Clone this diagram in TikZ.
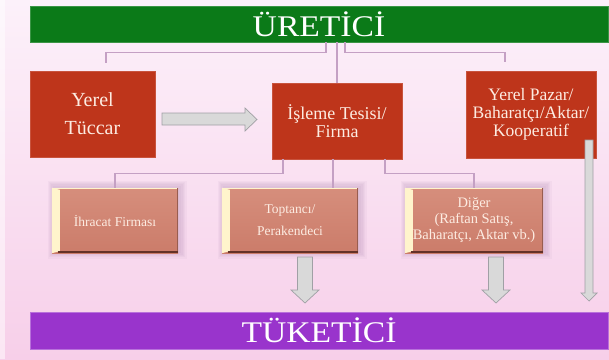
\documentclass[tikz,border=0pt]{standalone}
\usepackage{fontspec}
\setmainfont{Liberation Serif}
\usetikzlibrary{calc}
\definecolor{bgtop}{RGB}{252,241,250}
\definecolor{bgbot}{RGB}{247,207,233}
\definecolor{greenb}{RGB}{11,122,24}
\definecolor{purpleb}{RGB}{153,52,204}
\definecolor{redb}{RGB}{190,53,27}
\definecolor{salmon}{RGB}{203,124,106}
\definecolor{salmontop}{RGB}{214,142,124}
\definecolor{creamb}{RGB}{255,244,204}
\definecolor{brownb}{RGB}{100,50,40}
\definecolor{connc}{RGB}{196,160,196}
\definecolor{arrowf}{RGB}{217,217,217}
\definecolor{arrowd}{RGB}{160,160,165}
\definecolor{boxtext}{RGB}{253,236,226}
\definecolor{shadowc}{RGB}{140,100,150}
\newcommand\lbshadow[4]{%
  \foreach \k in {1,...,5}{\fill[shadowc, opacity=0.05] (#1-\k*1.3+2,#2-\k*1.3-1) rectangle (#3+\k*1.3+2,#4+\k*1.3-1);}}
\newcommand\lbdeco[1]{%
  \fill[creamb] (#1.north west) -- ([xshift=8pt,yshift=-2pt]#1.north west) -- ([xshift=8pt,yshift=2pt]#1.south west) -- (#1.south west) -- cycle;
  \draw[creamb, line width=1.5pt] ([yshift=-0.75pt]#1.north west) -- ([yshift=-0.75pt]#1.north east);
  \draw[salmon!75!black, line width=0.8pt] ([xshift=-0.4pt]#1.north east) -- ([xshift=-0.4pt]#1.south east);
  \draw[brownb, line width=2pt] ([xshift=6pt,yshift=1pt]#1.south west) -- ([yshift=1pt]#1.south east);}
\begin{document}
\begin{tikzpicture}[x=1pt,y=-1pt,
  banner/.style={rectangle, inner sep=0pt, minimum width=578pt, text=white},
  redbox/.style={rectangle, fill=redb, draw=redb!85!white, line width=0.4pt, inner sep=0pt, align=center, text=boxtext},
  lowbox/.style={rectangle, top color=salmontop, bottom color=salmon, inner sep=0pt, minimum height=65pt, align=center, text=boxtext},
  conn/.style={draw=connc, line width=1.2pt},
  garrow/.style={fill=arrowf, draw=arrowd, line width=0.7pt, line join=miter}]
\shade[top color=bgtop, bottom color=bgbot] (0,0) rectangle (609,359);
\useasboundingbox (0,0) rectangle (609,359);
\fill[white, opacity=0.5] (0,0) rectangle (5,359);

% banners
\node[banner, fill=greenb, draw=greenb!80!white, minimum height=36pt, font={\fontsize{30}{30}\selectfont}] (ure) at (319,24)
  {\scalebox{1.12}[1]{ÜRETİCİ}};
\node[banner, fill=purpleb, draw=purpleb!70!white, minimum height=37pt, font={\fontsize{30}{30}\selectfont}] (tuk) at (319,330.5)
  {\scalebox{1.12}[1]{TÜKETİCİ}};

% red boxes
\node[redbox, minimum width=125pt, minimum height=86pt, font={\fontsize{20}{28}\selectfont}] (tuccar) at (92.5,114)
  {Yerel\\Tüccar};
\node[redbox, minimum width=130pt, minimum height=76pt, font={\fontsize{18}{18.5}\selectfont}] (isleme) at (337,121)
  {İşleme Tesisi/\\Firma};
\node[redbox, minimum width=130pt, minimum height=87pt, font={\fontsize{17.5}{18}\selectfont}] (pazar) at (531,114.5)
  {Yerel Pazar/\\Baharatçı/Aktar/\\Kooperatif};

% lower boxes
\lbshadow{52}{188}{178}{253}
\lbshadow{222}{188}{358}{253}
\lbshadow{405}{188}{543}{253}
\node[lowbox, minimum width=126pt, font={\fontsize{13.5}{16}\selectfont}] (ihr) at (115,220.5)
  {İhracat Firması};
\node[lowbox, minimum width=136pt, font={\fontsize{13.5}{22}\selectfont}] (topt) at (290,220.5)
  {Toptancı/\\Perakendeci};
\node[lowbox, minimum width=138pt, font={\fontsize{14.5}{16}\selectfont}] (dig) at (474,220.5)
  {Diğer\\(Raftan Satış,\\Baharatçı, Aktar vb.)};
\lbdeco{ihr}
\lbdeco{topt}
\lbdeco{dig}

% connectors from producer
\coordinate (cL) at (106,63);
\coordinate (cR) at (505,62);
\draw[conn] ([xshift=7pt]ure.south) -- ++(0,10) -| (cL);
\draw[conn] (isleme.north) -- (isleme.north |- ure.south);
\draw[conn] ([xshift=26pt]ure.south) -- ++(0,10) -| (cR);

% connectors from processing plant
\draw[conn] ([xshift=-54pt]isleme.south) -- ++(0,14) -| (ihr.north);
\draw[conn] ([xshift=-4pt]isleme.south) -- ([xshift=-4pt]isleme.south |- topt.north);
\draw[conn] ([xshift=48pt]isleme.south) -- ++(0,14) -| (dig.north);

% block arrows
\draw[garrow] (162,113) -- (245,113) -- (245,108) -- (257,119.5) -- (245,131) -- (245,125) -- (162,125) -- cycle;
\draw[garrow] (297.5,257) -- (312.5,257) -- (312.5,290) -- (319,290) -- (305,303) -- (291,290) -- (297.5,290) -- cycle;
\draw[garrow] (488.5,257) -- (503.5,257) -- (503.5,290) -- (510,290) -- (496,303) -- (482,290) -- (488.5,290) -- cycle;
\draw[garrow] (585,140) -- (593,140) -- (593,293) -- (597,293) -- (589,301) -- (581,293) -- (585,293) -- cycle;
\end{tikzpicture}
\end{document}
